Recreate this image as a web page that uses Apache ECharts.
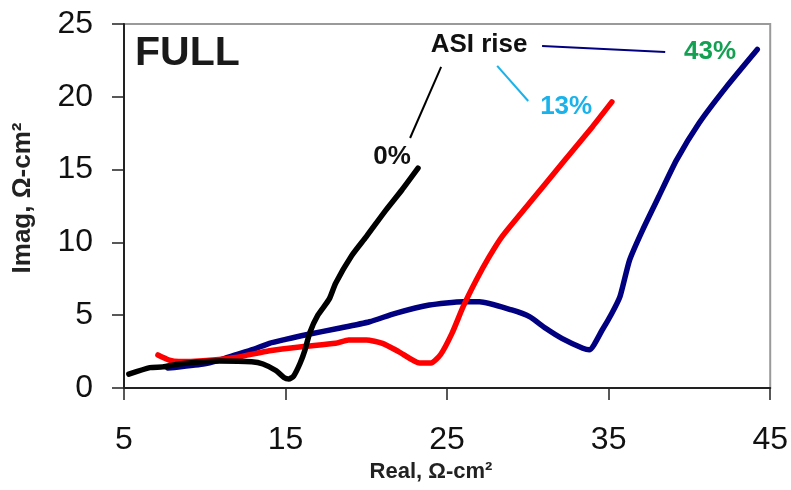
<!DOCTYPE html>
<html>
<head>
<meta charset="utf-8">
<script src="https://cdn.jsdelivr.net/npm/echarts@6/dist/echarts.min.js"></script>
<style>
  html, body { margin: 0; padding: 0; background: #fff; }
  #chart { width: 791px; height: 490px; }
</style>
</head>
<body>
<div id="chart"></div>
<script>
// Impedance spectra (Nyquist), [Real, Imag] in ohm-cm^2
const real0 = [5.3, 6.6, 7.4, 8.4, 9.9, 10.9, 12.9, 13.6, 14.4, 14.9, 15.2, 15.5, 15.9, 16.2, 16.5, 17.0, 17.7, 18.1, 19.1, 20.0, 21.2, 22.2, 23.2];
const imag0 = [0.95, 1.4, 1.45, 1.65, 1.8, 1.85, 1.8, 1.65, 1.2, 0.72, 0.62, 0.82, 1.7, 2.6, 3.8, 5.0, 6.1, 7.2, 9.1, 10.4, 12.2, 13.6, 15.1];

const real13 = [7.1, 7.8, 8.4, 9.9, 11.9, 14.0, 16.0, 18.1, 18.9, 20.0, 21.0, 22.0, 23.3, 24.0, 24.6, 25.3, 26.0, 26.8, 27.6, 28.4, 30.1, 32.1, 34.0, 35.2];
const imag13 = [2.27, 1.92, 1.82, 1.88, 2.1, 2.56, 2.84, 3.07, 3.3, 3.3, 3.07, 2.5, 1.72, 1.72, 2.3, 3.75, 5.6, 7.4, 9.0, 10.4, 12.7, 15.4, 17.95, 19.65];

const real43 = [7.7, 9.9, 10.9, 11.9, 13.0, 14.0, 15.0, 16.2, 18.3, 20.2, 21.8, 23.9, 26.0, 27.0, 29.0, 30.1, 31.1, 32.1, 33.4, 33.8, 34.6, 35.2, 35.7, 36.3, 37.1, 38.1, 39.2, 40.6, 42.3, 44.2];
const imag43 = [1.37, 1.65, 1.92, 2.27, 2.65, 3.07, 3.34, 3.64, 4.1, 4.55, 5.13, 5.7, 5.93, 5.93, 5.36, 4.9, 4.1, 3.41, 2.73, 2.62, 3.98, 5.13, 6.27, 8.8, 10.85, 13.15, 15.65, 18.2, 20.7, 23.25];

// Axis ticks
const xTicks = [5, 15, 25, 35, 45];
const yTicks = [0, 5, 10, 15, 20, 25];

// Annotation text and leader lines (data coordinates)
const annoTexts = ['ASI rise', '43%', '13%', '0%'];
const annoAnchors = [[26.98, 23.56], [41.28, 23.08], [32.37, 19.3], [21.59, 15.87]];
const leader43 = [[30.88, 23.49], [38.5, 23.08]];
const leader13 = [[28.1, 22.12], [30.02, 19.71]];
const leader0 = [[24.63, 22.05], [22.71, 17.17]];

const zip = (xs, ys) => xs.map((x, i) => [x, ys[i]]);

const chart = echarts.init(document.getElementById('chart'), null, { renderer: 'canvas' });

const FONT = '"Liberation Sans", Arial, sans-serif';

function curve(name, data, color, z) {
  return {
    name, type: 'line', data, showSymbol: false, symbol: 'none', smooth: 0.2,
    lineStyle: { color, width: 5.5, cap: 'round', join: 'round' }, z, animation: false
  };
}
function leader(data, color) {
  return {
    type: 'line', data, showSymbol: false, symbol: 'none', silent: true,
    lineStyle: { color, width: 2 }, z: 5, animation: false
  };
}

chart.setOption({
  animation: false,
  backgroundColor: '#fff',
  grid: { left: 124, right: 20, top: 24, bottom: 102, show: true, borderColor: '#9a9a9a', borderWidth: 2 },
  xAxis: {
    type: 'value', min: xTicks[0], max: xTicks[xTicks.length - 1], interval: 10,
    splitLine: { show: false },
    axisLine: { show: true, onZero: false, lineStyle: { color: '#222', width: 2 } },
    axisTick: { show: true, inside: false, length: 12, lineStyle: { color: '#222', width: 1.5 } },
    axisLabel: { color: '#111', fontSize: 32, fontFamily: FONT, margin: 36 }
  },
  yAxis: {
    type: 'value', min: yTicks[0], max: yTicks[yTicks.length - 1], interval: 5,
    splitLine: { show: false },
    axisLine: { show: true, onZero: false, lineStyle: { color: '#222', width: 2 } },
    axisTick: { show: true, inside: false, length: 12, lineStyle: { color: '#222', width: 1.5 } },
    axisLabel: { color: '#111', fontSize: 32, fontFamily: FONT, margin: 31 }
  },
  series: [
    curve('43%', zip(real43, imag43), '#000080', 2),
    curve('13%', zip(real13, imag13), '#ff0000', 3),
    curve('0%', zip(real0, imag0), '#000000', 4),
    leader(leader43, '#000080'),
    leader(leader13, '#19b2ea'),
    leader(leader0, '#000000')
  ]
});

// Text annotations placed through the axis scales
const annoColors = ['#111', '#14a052', '#19b2ea', '#111'];
const texts = annoTexts.map((t, i) => {
  const p = chart.convertToPixel({ gridIndex: 0 }, annoAnchors[i]);
  return {
    type: 'text', x: p[0], y: p[1], z: 10,
    style: { text: t, fill: annoColors[i], font: 'bold 26px ' + FONT, align: 'center', verticalAlign: 'middle' }
  };
});

chart.setOption({
  graphic: [
    { type: 'text', left: 135, top: 33, z: 10,
      style: { text: 'FULL', fill: '#1a1a1a', font: 'bold 41px ' + FONT } },
    { type: 'text', x: 431, y: 472, z: 10,
      style: { text: 'Real, Ω-cm²', fill: '#222', font: 'bold 22px ' + FONT, align: 'center', verticalAlign: 'middle' } },
    { type: 'text', x: 23, y: 198, rotation: Math.PI / 2, z: 10,
      style: { text: 'Imag, Ω-cm²', fill: '#222', font: 'bold 26px ' + FONT, align: 'center', verticalAlign: 'middle' } }
  ].concat(texts)
});
</script>
</body>
</html>
